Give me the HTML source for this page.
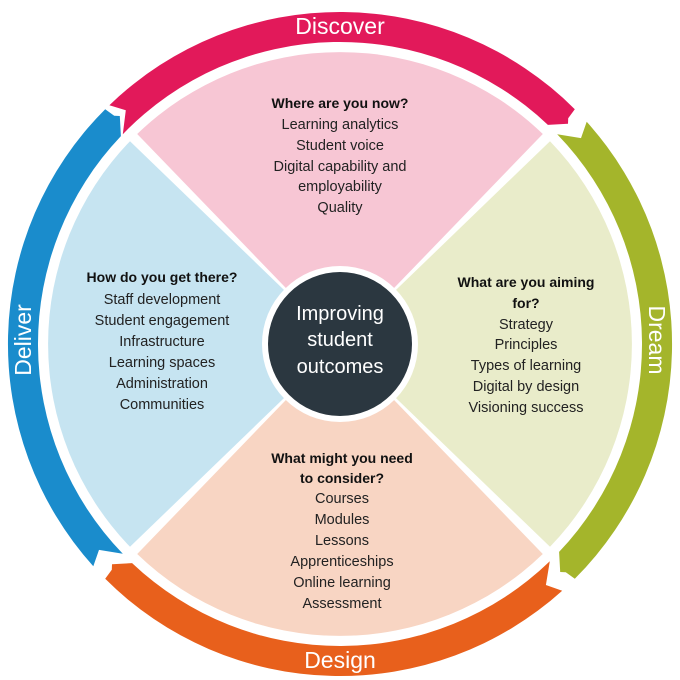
<!DOCTYPE html>
<html><head><meta charset="utf-8"><style>
html,body{margin:0;padding:0;background:#fff;}
svg{display:block;}
text{font-family:"Liberation Sans",sans-serif;}
.h{font-weight:bold;font-size:14px;fill:#111;}
.l{font-size:14.5px;fill:#222;}
.w{fill:#fff;font-size:23px;}
</style></head><body>
<svg id="s" width="680" height="680" viewBox="0 0 680 680" xmlns="http://www.w3.org/2000/svg">
<g id="bands"></g>
<circle cx="340" cy="344" r="295" fill="#fff"/>
<g id="quads"></g>
<circle cx="340" cy="344" r="78" fill="#fff"/>
<circle cx="340" cy="344" r="72" fill="#2b3740"/>
<g text-anchor="middle">
<text x="340" y="320" class="w" style="font-size:20px">Improving</text>
<text x="340" y="346" class="w" style="font-size:20px">student</text>
<text x="340" y="373" class="w" style="font-size:20px">outcomes</text>

<text x="340" y="34" class="w">Discover</text>
<text x="340" y="668" class="w">Design</text>
<text transform="translate(649,340) rotate(90)" class="w">Dream</text>
<text transform="translate(31,340) rotate(-90)" class="w">Deliver</text>

<text x="340" y="108" class="h">Where are you now?</text>
<text x="340" y="129" class="l">Learning analytics</text>
<text x="340" y="150" class="l">Student voice</text>
<text x="340" y="171" class="l">Digital capability and</text>
<text x="340" y="191" class="l">employability</text>
<text x="340" y="212" class="l">Quality</text>

<text x="162" y="282" class="h">How do you get there?</text>
<text x="162" y="304" class="l">Staff development</text>
<text x="162" y="325" class="l">Student engagement</text>
<text x="162" y="346" class="l">Infrastructure</text>
<text x="162" y="367" class="l">Learning spaces</text>
<text x="162" y="388" class="l">Administration</text>
<text x="162" y="409" class="l">Communities</text>

<text x="526" y="287" class="h">What are you aiming</text>
<text x="526" y="308" class="h">for?</text>
<text x="526" y="329" class="l">Strategy</text>
<text x="526" y="349" class="l">Principles</text>
<text x="526" y="370" class="l">Types of learning</text>
<text x="526" y="391" class="l">Digital by design</text>
<text x="526" y="412" class="l">Visioning success</text>

<text x="342" y="463" class="h">What might you need</text>
<text x="342" y="483" class="h">to consider?</text>
<text x="342" y="503" class="l">Courses</text>
<text x="342" y="524" class="l">Modules</text>
<text x="342" y="545" class="l">Lessons</text>
<text x="342" y="566" class="l">Apprenticeships</text>
<text x="342" y="587" class="l">Online learning</text>
<text x="342" y="608" class="l">Assessment</text>
</g>
</svg>
<script>
var cx=340,cy=344,R1=302,R2=332,Rm=317;
function p(r,a){a=a*Math.PI/180;return (cx+r*Math.cos(a)).toFixed(1)+","+(cy+r*Math.sin(a)).toFixed(1);}
function band(s,e,col){
 var d="M"+p(R2,s+1)+" A"+R2+","+R2+" 0 0 1 "+p(R2,e)+" L"+p(Rm+4,e+0.3)+" L"+p(Rm,e+1)+" L"+p(R1,e-1.5)+
 " A"+R1+","+R1+" 0 0 0 "+p(R1,s-1)+" L"+p(Rm,s+2.5)+" Z";
 return '<path d="'+d+'" fill="'+col+'"/>';
}
document.getElementById("bands").innerHTML=
 band(-135,-45,"#e2195a")+band(-43,45,"#a4b52b")+band(47,135,"#e8601c")+band(137,225,"#1a8ccc");
function quad(s,e,col){
 return '<path d="M340,344 L'+p(292,s)+' A292,292 0 0 1 '+p(292,e)+' Z" fill="'+col+'"/>';
}
document.getElementById("quads").innerHTML=
 quad(-134,-46,"#f7c6d4")+quad(-44,44,"#e9ecca")+quad(46,134,"#f8d5c3")+quad(136,224,"#c6e4f1");
</script>
</body></html>
